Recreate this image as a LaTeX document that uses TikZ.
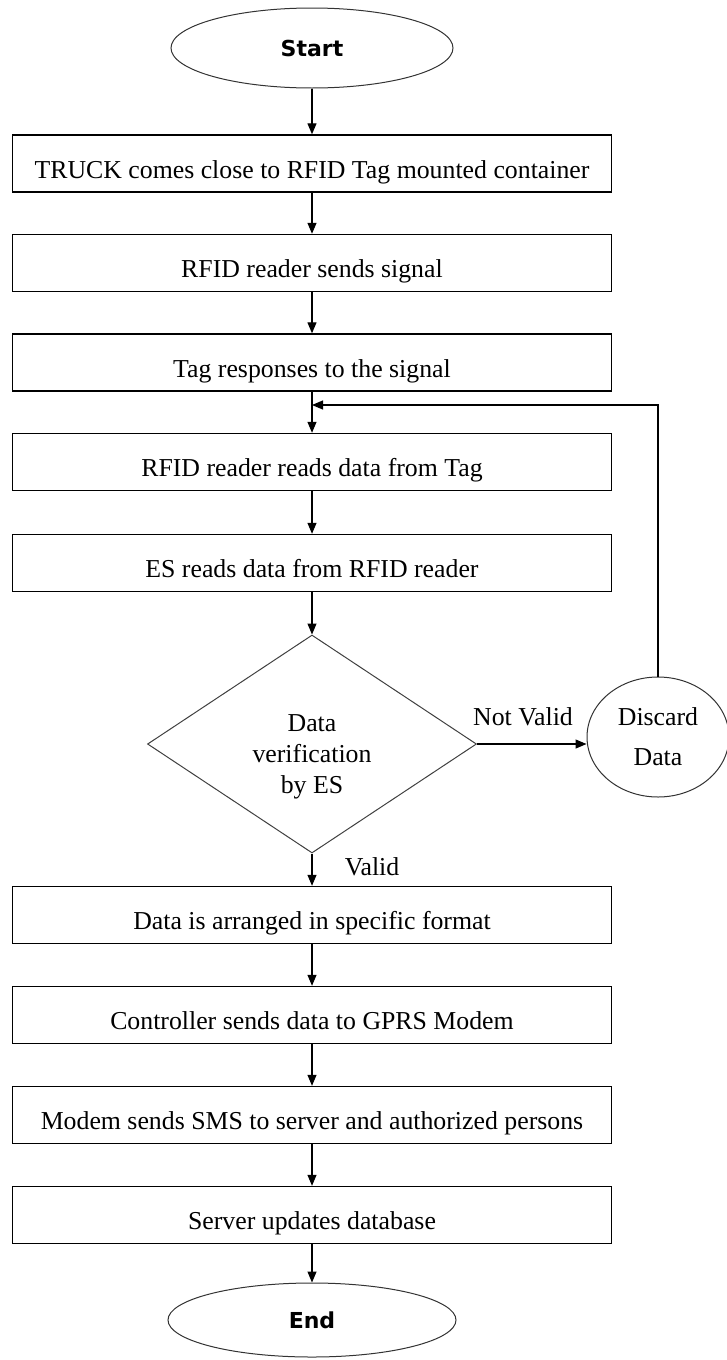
\documentclass[tikz,border=0pt]{standalone}
\usepackage{fontspec}
\setmainfont{Liberation Serif}
\newfontfamily\headfont{DejaVu Sans}
\usetikzlibrary{shapes.geometric,arrows.meta}
\begin{document}
\begin{tikzpicture}[x=1pt,y=-1pt,
  stepbox/.style={draw=black, line width=1.4pt, rectangle,
    minimum width=599pt, minimum height=57pt, inner sep=0pt,
    font=\fontsize{25.8}{31}\selectfont, text height=29pt, text depth=0pt},
  terminal/.style={draw=black!80, line width=1pt, ellipse, inner sep=0pt,
    font=\headfont\bfseries\fontsize{22}{26}\selectfont},
  decision/.style={draw=black!75, line width=1pt, diamond, inner sep=0pt,
    minimum width=329pt, minimum height=218pt},
  roundnode/.style={draw=black!80, line width=1pt, ellipse, inner sep=0pt,
    minimum width=142pt, minimum height=120pt, align=center,
    font=\fontsize{25.8}{40}\selectfont},
  lbl/.style={inner sep=0pt, font=\fontsize{25.8}{31}\selectfont},
  flow/.style={draw=black, line width=1.2pt, -{Triangle[length=11pt,width=9pt]}},
  link/.style={draw=black, line width=1.2pt}
]
\useasboundingbox (0,0) rectangle (727,1360);

% terminals
\node[terminal, minimum width=282pt, minimum height=80pt] (start) at (312,48) {Start};
\node[terminal, minimum width=288pt, minimum height=74pt] (stop) at (312,1320) {End};

% process steps
\node[stepbox] (s1) at (312,163.5) {TRUCK comes close to RFID Tag mounted container};
\node[stepbox] (s2) at (312,263) {RFID reader sends signal};
\node[stepbox] (s3) at (312,362.5) {Tag responses to the signal};
\node[stepbox] (s4) at (312,462) {RFID reader reads data from Tag};
\node[stepbox] (s5) at (312,563) {ES reads data from RFID reader};
\node[stepbox] (s6) at (312,915) {Data is arranged in specific format};
\node[stepbox] (s7) at (312,1015) {Controller sends data to GPRS Modem};
\node[stepbox] (s8) at (312,1115) {Modem sends SMS to server and authorized persons};
\node[stepbox] (s9) at (312,1215) {Server updates database};

% decision and rejection
\node[decision] (check) at (312,744) {};
\node[lbl, align=center] (checktext) at (312,757) {Data\\verification\\by ES};
\node[roundnode] (discard) at (658,737) {Discard\\Data};

% main flow
\draw[flow] (start) -- (s1);
\draw[flow] (s1) -- (s2);
\draw[flow] (s2) -- (s3);
\draw[flow] (s3) -- (s4);
\draw[flow] (s4) -- (s5);
\draw[flow] (s5) -- (check);
\draw[flow] (check) -- (s6);
\draw[flow] (s6) -- (s7);
\draw[flow] (s7) -- (s8);
\draw[flow] (s8) -- (s9);
\draw[flow] (s9) -- (stop);

% rejected data goes back to reading
\draw[flow] (check.east) -- (check.east -| discard.west);
\coordinate (retry) at (312,405);
\draw[flow] (discard.north) |- (retry);

% branch labels
\node[lbl, anchor=base] (notvalid) at (523,725) {Not Valid};
\node[lbl, anchor=base] (valid) at (372,875) {Valid};
\end{tikzpicture}
\end{document}
